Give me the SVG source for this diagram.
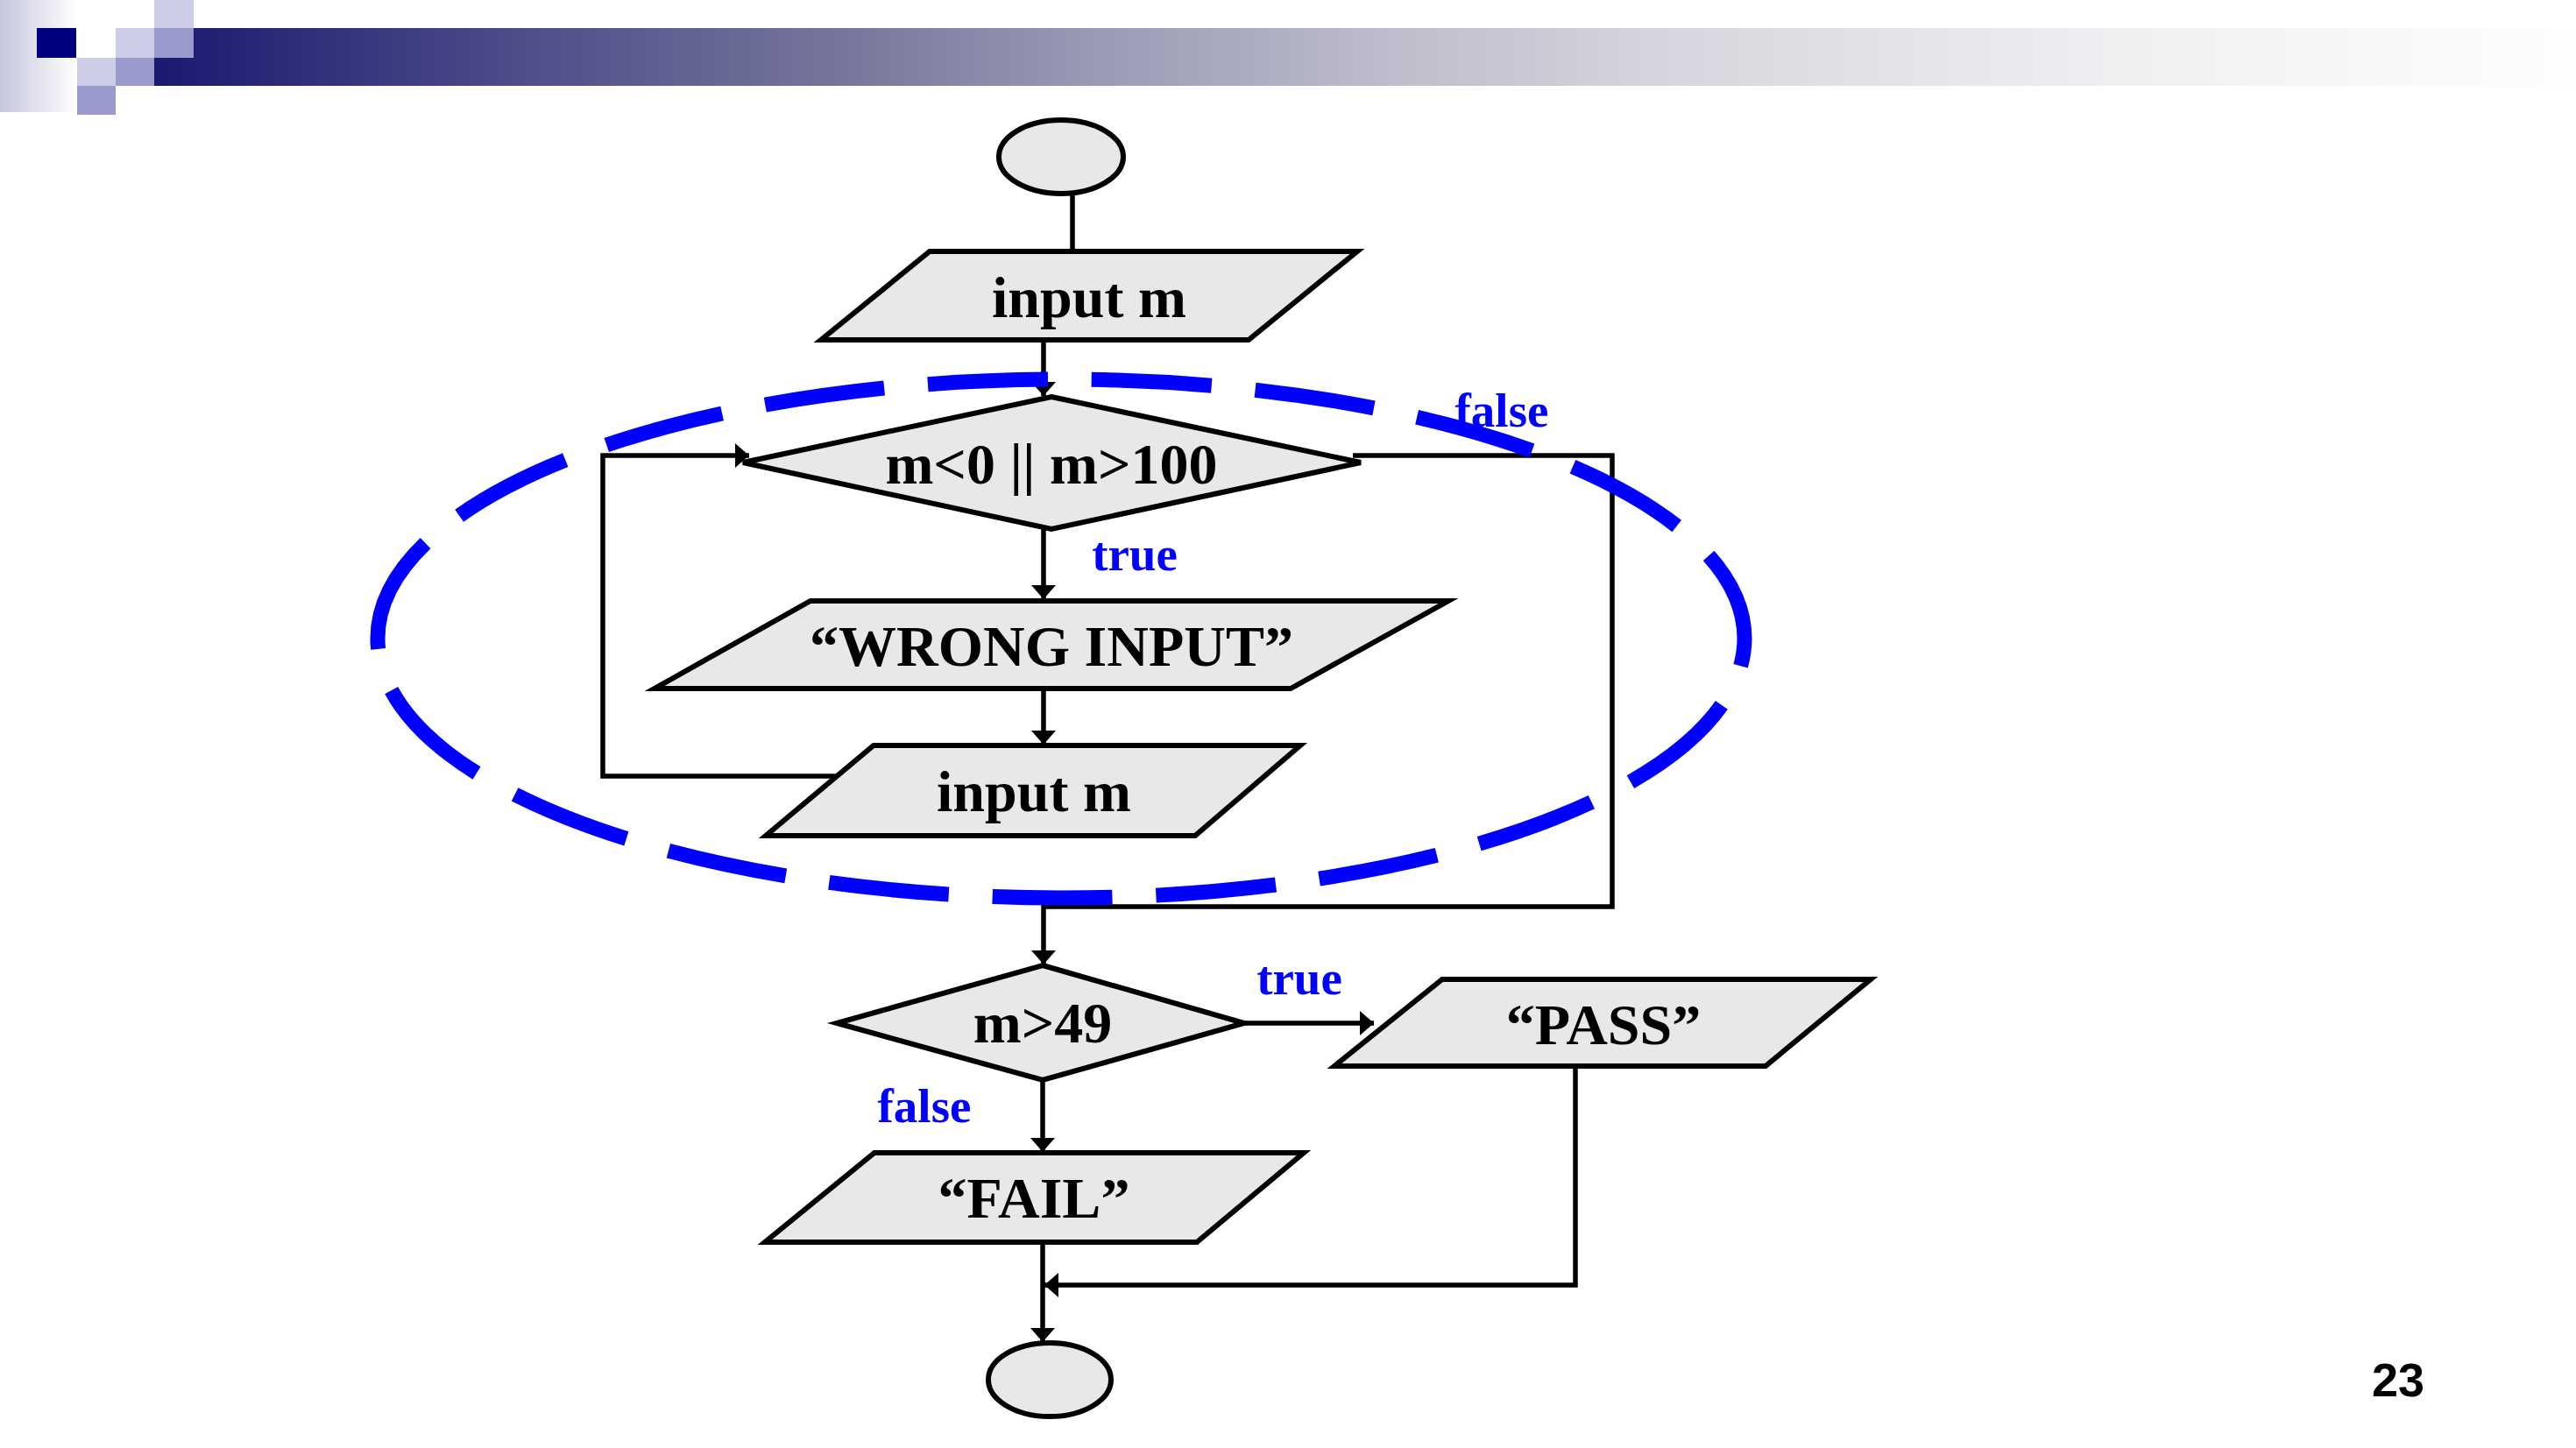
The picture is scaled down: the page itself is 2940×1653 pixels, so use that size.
<svg xmlns="http://www.w3.org/2000/svg" width="2940" height="1653" viewBox="0 0 2940 1653">
<defs>
<linearGradient id="barGrad" gradientUnits="userSpaceOnUse" x1="176" y1="0" x2="2940" y2="0">
<stop offset="0" stop-color="#191970"/>
<stop offset="0.153" stop-color="#4e4e8a"/>
<stop offset="0.271" stop-color="#72729a"/>
<stop offset="0.389" stop-color="#9a9ab4"/>
<stop offset="0.506" stop-color="#bcbccc"/>
<stop offset="0.624" stop-color="#d6d6de"/>
<stop offset="0.812" stop-color="#f0f0f3"/>
<stop offset="1" stop-color="#fefefe"/>
</linearGradient>
<linearGradient id="leftGrad" x1="0" y1="0" x2="1" y2="0">
<stop offset="0" stop-color="#c6c6de"/>
<stop offset="1" stop-color="#ffffff"/>
</linearGradient>
<marker id="arrow" markerUnits="userSpaceOnUse" markerWidth="17" markerHeight="28" refX="16" refY="14" orient="auto">
<path d="M0,0 L16,14 L0,28 z" fill="#000"/>
</marker>
<style>
.node{fill:#e8e8e8;stroke:#000;stroke-width:6;stroke-linejoin:miter}
.conn{fill:none;stroke:#000;stroke-width:5.5}
.arr{marker-end:url(#arrow)}
.txt{font-family:"Liberation Serif","Times New Roman",serif;font-weight:bold;font-size:66px;text-anchor:middle;fill:#000}
.lbl{font-family:"Liberation Serif","Times New Roman",serif;font-weight:bold;font-size:55px;text-anchor:middle;fill:#0000ff}
.sq1{fill:#ccccE6}
.sq2{fill:#9999cc}
</style>
</defs>
<rect x="0" y="0" width="2940" height="1653" fill="#ffffff"/>
<g id="header">
<rect x="0" y="0" width="88" height="128" fill="url(#leftGrad)"/>
<rect x="176" y="32" width="2764" height="66" fill="url(#barGrad)"/>
<rect x="42" y="32" width="45" height="34" fill="#000080"/>
<rect class="sq1" x="132" y="32" width="44" height="34"/>
<rect class="sq1" x="176" y="0" width="45" height="32"/>
<rect class="sq2" x="176" y="32" width="45" height="34"/>
<rect class="sq1" x="88" y="66" width="44" height="32"/>
<rect class="sq2" x="132" y="66" width="44" height="32"/>
<rect class="sq2" x="88" y="98" width="44" height="33"/>
</g>
<g id="connectors">
<path class="conn" d="M1224,221 L1224,287"/>
<path class="conn arr" d="M1191,389 L1191,452"/>
<path class="conn arr" d="M1191,604 L1191,684"/>
<path class="conn arr" d="M1191,787 L1191,850"/>
<path class="conn arr" d="M959,886 L688,886 L688,520 L855,520"/>
<path class="conn arr" d="M1544,520 L1840,520 L1840,1035 L1191,1035 L1191,1101"/>
<path class="conn arr" d="M1420,1168 L1568,1168"/>
<path class="conn arr" d="M1190,1233 L1190,1315"/>
<path class="conn arr" d="M1190,1419 L1190,1532"/>
<path class="conn arr" d="M1798,1217 L1798,1467 L1192,1467"/>
</g>
<g id="loop-highlight">
<path d="M1211,433 A780,296 0 1,1 1211,1025 A780,296 0 1,1 1211,433" fill="none" stroke="#0000ff" stroke-width="17" stroke-dasharray="137 50" stroke-dashoffset="152"/>
</g>
<g id="start">
<ellipse class="node" cx="1211" cy="179" rx="71" ry="42"/>
</g>
<g id="input1">
<polygon class="node" points="1061,287 1549,287 1425,388 937,388"/>
<text class="txt" x="1243" y="362">input m</text>
</g>
<g id="cond1">
<polygon class="node" points="1200,453 1553,528 1200,604 848,528"/>
<text class="txt" x="1200" y="552">m&lt;0 || m&gt;100</text>
</g>
<g id="wrong">
<polygon class="node" points="925,686 1653,686 1473,786 747,786"/>
<text class="txt" x="1200" y="760">“WRONG INPUT”</text>
</g>
<g id="input2">
<polygon class="node" points="997,851 1484,851 1364,954 874,954"/>
<text class="txt" x="1180" y="926">input m</text>
</g>
<g id="cond2">
<polygon class="node" points="1190,1102 1420,1168 1190,1233 955,1168"/>
<text class="txt" x="1190" y="1190">m&gt;49</text>
</g>
<g id="pass">
<polygon class="node" points="1646,1118 2135,1118 2015,1217 1523,1217"/>
<text class="txt" x="1830" y="1192">“PASS”</text>
</g>
<g id="fail">
<polygon class="node" points="998,1316 1488,1316 1366,1418 873,1418"/>
<text class="txt" x="1180" y="1390">“FAIL”</text>
</g>
<g id="end">
<ellipse class="node" cx="1198" cy="1575" rx="70" ry="42"/>
</g>
<g id="labels">
<text class="lbl" x="1714" y="487">false</text>
<text class="lbl" x="1295" y="651">true</text>
<text class="lbl" x="1483" y="1135">true</text>
<text class="lbl" x="1055" y="1281">false</text>
</g>
<text x="2707" y="1594" font-family="'Liberation Sans', Arial, sans-serif" font-weight="bold" font-size="54" fill="#000">23</text>
</svg>
